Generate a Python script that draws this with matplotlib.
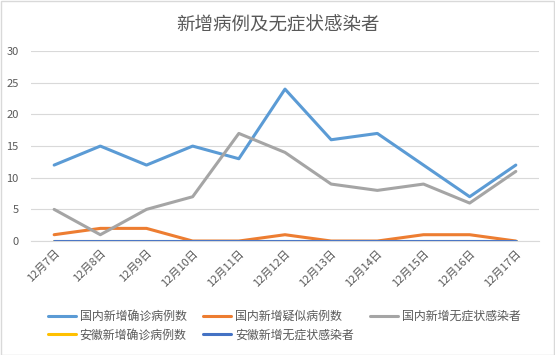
import matplotlib.pyplot as plt
from matplotlib.patches import Rectangle

plt.rcParams['font.family'] = ['Noto Sans CJK SC', 'DejaVu Sans']

dates = ['12月7日', '12月8日', '12月9日', '12月10日', '12月11日', '12月12日',
         '12月13日', '12月14日', '12月15日', '12月16日', '12月17日']
national_confirmed = [12, 15, 12, 15, 13, 24, 16, 17, 12, 7, 12]
national_suspected = [1, 2, 2, 0, 0, 1, 0, 0, 1, 1, 0]
national_asymptomatic = [5, 1, 5, 7, 17, 14, 9, 8, 9, 6, 11]
anhui_confirmed = [0, 0, 0, 0, 0, 0, 0, 0, 0, 0, 0]
anhui_asymptomatic = [0, 0, 0, 0, 0, 0, 0, 0, 0, 0, 0]

series = [
    ('国内新增确诊病例数', national_confirmed, '#5B9BD5'),
    ('国内新增疑似病例数', national_suspected, '#ED7D31'),
    ('国内新增无症状感染者', national_asymptomatic, '#A5A5A5'),
    ('安徽新增确诊病例数', anhui_confirmed, '#FFC000'),
    ('安徽新增无症状感染者', anhui_asymptomatic, '#4472C4'),
]

fig = plt.figure(figsize=(5.55, 3.55), dpi=100)
ax = fig.add_axes([0.056, 0.321, 0.915, 0.535])

x = range(len(dates))
handles = []
for name, vals, color in series:
    h, = ax.plot(x, vals, color=color, lw=2.2, label=name, solid_capstyle='round')
    handles.append(h)

ax.set_xlim(-0.5, len(dates) - 0.5)
ax.set_ylim(0, 30)
ax.set_yticks(range(0, 31, 5))
ax.yaxis.grid(True, color='#D9D9D9', lw=0.8)
ax.set_axisbelow(True)
for s in ['top', 'right', 'left']:
    ax.spines[s].set_visible(False)
ax.spines['bottom'].set_color('#D9D9D9')
ax.tick_params(length=0, colors='#595959', labelsize=8)
ax.tick_params(axis='y', pad=9)
ax.tick_params(axis='x', pad=5)
ax.set_xticks(list(x))
ax.set_xticklabels(dates, rotation=45, ha='right', rotation_mode='anchor')

fig.text(0.5, 0.93, '新增病例及无症状感染者', ha='center', va='center',
         fontsize=13.3, color='#595959')

order = [0, 3, 1, 4, 2]
fig.legend([handles[i] for i in order], [series[i][0] for i in order],
           ncol=3, loc='upper left', bbox_to_anchor=(48 / 555, 1 - 310 / 355),
           frameon=False, borderpad=0, borderaxespad=0,
           fontsize=8.6, labelcolor='#595959', handlelength=2.35,
           columnspacing=1.4, handletextpad=0.3, labelspacing=0.45)

fig.patches.append(Rectangle((0.001, 0.001), 0.997, 0.997, transform=fig.transFigure,
                             fill=False, edgecolor='#D9D9D9', lw=1))

fig.savefig('out.png', dpi=100)
